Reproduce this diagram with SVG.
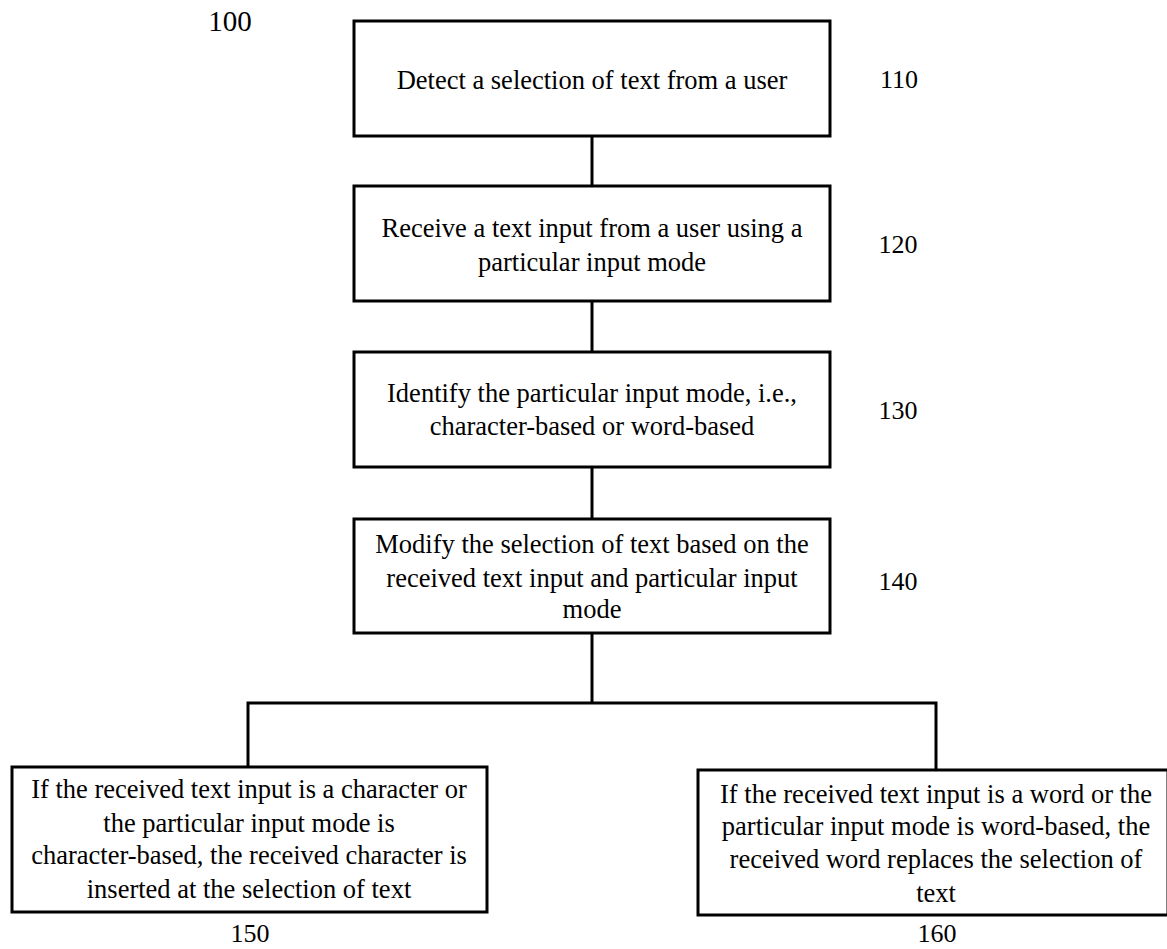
<svg xmlns="http://www.w3.org/2000/svg" width="1167" height="949" viewBox="0 0 1167 949">
<style>
.box{fill:#fff;stroke:#000;stroke-width:3}
.conn{fill:none;stroke:#000;stroke-width:3}
text{font-family:"Liberation Serif","Times New Roman",serif;font-size:26.5px;fill:#000;text-anchor:middle}
.num{font-size:26px}
</style>
<rect width="1167" height="949" fill="#fff"/>
<g id="connectors">
<line class="conn" x1="592" y1="136" x2="592" y2="186"/>
<line class="conn" x1="592" y1="301" x2="592" y2="352"/>
<line class="conn" x1="592" y1="467" x2="592" y2="519"/>
<line class="conn" x1="592" y1="633" x2="592" y2="703"/>
<polyline class="conn" points="248,767 248,703 936,703 936,770"/>
</g>
<g id="label100"><text x="230" y="31" style="font-size:29px">100</text></g>
<g id="n110">
<rect class="box" x="354" y="21" width="476" height="115"/>
<text x="592" y="89">Detect a selection of text from a user</text>
<text class="num" x="899" y="88">110</text>
</g>
<g id="n120">
<rect class="box" x="354" y="186" width="476" height="115"/>
<text x="592" y="237">Receive a text input from a user using a</text>
<text x="592" y="271">particular input mode</text>
<text class="num" x="898" y="253">120</text>
</g>
<g id="n130">
<rect class="box" x="354" y="352" width="476" height="115"/>
<text x="592" y="402">Identify the particular input mode, i.e.,</text>
<text x="592" y="435">character-based or word-based</text>
<text class="num" x="898" y="419">130</text>
</g>
<g id="n140">
<rect class="box" x="354" y="519" width="476" height="114"/>
<text x="592" y="553">Modify the selection of text based on the</text>
<text x="592" y="587">received text input and particular input</text>
<text x="592" y="618">mode</text>
<text class="num" x="898" y="590">140</text>
</g>
<g id="n150">
<rect class="box" x="12" y="767" width="475" height="145"/>
<text x="249" y="798">If the received text input is a character or</text>
<text x="249" y="832">the particular input mode is</text>
<text x="249" y="864">character-based, the received character is</text>
<text x="249" y="898">inserted at the selection of text</text>
<text class="num" x="250" y="942">150</text>
</g>
<g id="n160">
<rect class="box" x="698" y="770" width="470" height="145"/>
<text x="936" y="803">If the received text input is a word or the</text>
<text x="936" y="835">particular input mode is word-based, the</text>
<text x="936" y="868">received word replaces the selection of</text>
<text x="936" y="902">text</text>
<text class="num" x="937" y="942">160</text>
</g>
</svg>
